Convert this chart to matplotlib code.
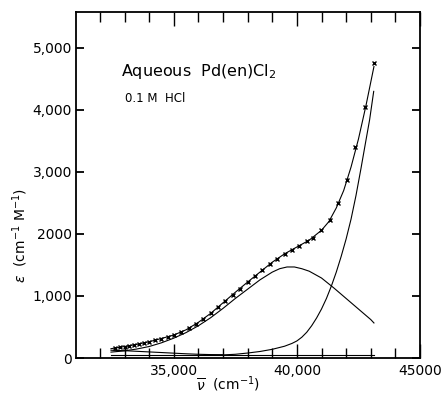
import numpy as np
import matplotlib.pyplot as plt
from matplotlib.ticker import FixedLocator, FixedFormatter, MultipleLocator

# measured points (x markers)
nu_meas = [32600, 32800, 33000, 33200, 33400, 33600, 33800, 34000, 34250, 34500,
           34750, 35000, 35300, 35600, 35900, 36200, 36500, 36800, 37100, 37400,
           37700, 38000, 38300, 38600, 38900, 39200, 39500, 39800, 40100, 40400,
           40650, 40974, 41327, 41668, 42034, 42372, 42778, 43144]
eps_meas = [165, 175, 185, 200, 213, 228, 245, 262, 285, 310,
            340, 370, 420, 480, 550, 630, 720, 820, 920, 1020,
            1120, 1225, 1325, 1420, 1520, 1600, 1680, 1740, 1810, 1880,
            1940, 2060, 2220, 2500, 2870, 3400, 4040, 4750]

# fitted sum
nu_fit = [32450, 33000, 33500, 34000, 34500, 35000, 35500, 36000, 36500, 37000,
          37500, 38000, 38500, 39000, 39500, 40000, 40500, 41000, 41300, 41600,
          41900, 42200, 42500, 42800, 43130]
eps_fit = [150, 185, 220, 262, 315, 370, 455, 575, 720, 890,
           1060, 1225, 1385, 1545, 1680, 1790, 1900, 2060, 2200, 2420,
           2700, 3080, 3530, 4060, 4700]

# band 1 (main Gaussian)
nu_b1 = [32450, 33000, 33500, 34000, 34500, 35000, 35500, 36000, 36500, 37000,
         37500, 38000, 38500, 39000, 39300, 39600, 39900, 40200, 40500, 41000,
         41500, 42000, 42500, 43000, 43130]
eps_b1 = [95, 115, 145, 185, 245, 320, 410, 520, 650, 800,
          960, 1110, 1260, 1385, 1440, 1468, 1468, 1440, 1400, 1290,
          1130, 960, 790, 620, 565]

# band 2 (rising, high energy)
nu_b2 = [36500, 37000, 37500, 38000, 38500, 39000, 39500, 39800, 40000, 40200,
         40400, 40600, 40800, 41000, 41200, 41400, 41600, 41800, 42000, 42200,
         42400, 42600, 42800, 42953, 43120]
eps_b2 = [45, 50, 60, 80, 105, 140, 190, 235, 275, 335,
          415, 520, 645, 790, 960, 1160, 1385, 1640, 1920, 2240,
          2620, 3050, 3500, 3840, 4300]

# low energy weak band
nu_b0 = [32450, 33000, 33500, 34000, 34500, 35000, 35500, 36000, 36500, 37000]
eps_b0 = [125, 118, 108, 98, 88, 78, 68, 60, 55, 52]

# baseline
nu_base = [32450, 43130]
eps_base = [55, 55]

fig = plt.figure(figsize=(4.42, 3.93), dpi=100)
ax = fig.add_axes([76/442, 1-358/393, 344/442, 346/393])

lw = 0.8
ax.plot(nu_fit, eps_fit, color='black', lw=lw)
ax.plot(nu_b1, eps_b1, color='black', lw=lw)
ax.plot(nu_b2, eps_b2, color='black', lw=lw)
ax.plot(nu_b0, eps_b0, color='black', lw=lw)
ax.plot(nu_base, eps_base, color='black', lw=lw)
ax.plot(nu_meas, eps_meas, ls='none', marker='x', ms=3.5, mew=1.0, color='black')

ax.set_xlim(31030, 45000)
ax.set_ylim(0, 5580)

for s in ax.spines.values():
    s.set_linewidth(1.3)

ax.xaxis.set_major_locator(FixedLocator([35000, 40000, 45000]))
ax.xaxis.set_major_formatter(FixedFormatter(["35,000", "40,000", "45000"]))
ax.xaxis.set_minor_locator(MultipleLocator(1000))
ax.yaxis.set_major_locator(FixedLocator([0, 1000, 2000, 3000, 4000, 5000]))
ax.yaxis.set_major_formatter(FixedFormatter(["0", "1,000", "2000", "3,000", "4,000", "5,000"]))

ax.tick_params(axis='x', which='both', direction='in', top=True, bottom=True,
               width=1.0, labelsize=10, pad=4)
ax.tick_params(axis='x', which='major', length=10)
ax.tick_params(axis='x', which='minor', length=7)
ax.tick_params(axis='y', which='major', direction='in', left=True, right=True,
               length=6, width=1.3, labelsize=10, pad=3)

ax.text(32850, 4550, "Aqueous  Pd(en)Cl$_{2}$", fontsize=11.5)
ax.text(33000, 4130, "0.1 M  HCl", fontsize=8.5)

fig.text(0.045, 1-235/393, r"$\epsilon$  (cm$^{-1}$ M$^{-1}$)", rotation=90,
         ha='center', va='center', fontsize=10)
fig.text(228/442, 1-384/393, r"$\overline{\nu}$  (cm$^{-1}$)", ha='center',
         va='center', fontsize=10)

fig.savefig("out.png", dpi=100)
